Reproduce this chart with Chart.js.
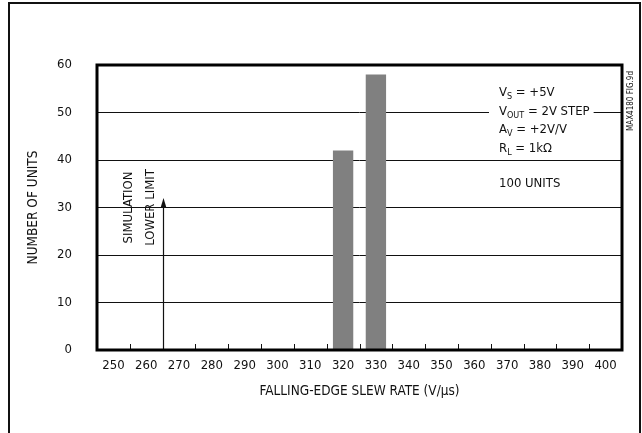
<!DOCTYPE html>
<html>
<head>
<meta charset="utf-8">
<script src="https://cdn.jsdelivr.net/npm/chart.js@4/dist/chart.umd.min.js"></script>
<style>
  html, body { margin: 0; padding: 0; background: #fff; }
  #wrap { position: relative; width: 642px; height: 433px; overflow: hidden; }
  #frame { position: absolute; left: 8px; top: 2px; width: 629px; height: 500px;
           border: 2px solid #111; border-bottom: none; }
  #chart { position: absolute; left: 0; top: 0; }
</style>
</head>
<body>
<div id="wrap">
  <div id="frame"></div>
  <canvas id="chart" width="642" height="433"></canvas>
</div>
<script>
// slew rate bins (V/us) and unit counts
var slewRates = ['250','260','270','280','290','300','310','320','330','340','350','360','370','380','390','400'];
var units     = [0, 0, 0, 0, 0, 0, 0, 42, 58, 0, 0, 0, 0, 0, 0, 0];
var yMin = 0, yMax = 60, yStep = 10;
var lowerLimitValue = 32;   // arrow tip height (units)

var FONT = "'Liberation Sans Narrow', 'DejaVu Sans Condensed', 'Arial Narrow', sans-serif";
var INK = '#111';

// condition lines: [main, subscript, rest]
var conditions = [
  ['V', 'S', ' = +5V'],
  ['V', 'OUT', ' = 2V STEP'],
  ['A', 'V', ' = +2V/V'],
  ['R', 'L', ' = 1k\u03A9']
];

var extras = {
  id: 'extras',
  afterDatasetsDraw: function(chart){
    var ctx = chart.ctx;
    var a = chart.chartArea;
    var xs = chart.scales.x, ys = chart.scales.y;
    ctx.save();

    // tick marks at bin boundaries, inside the plot
    ctx.strokeStyle = INK;
    ctx.lineWidth = 1;
    for (var i = 0; i < slewRates.length - 1; i++) {
      var bx = Math.round((xs.getPixelForValue(i) + xs.getPixelForValue(i + 1)) / 2) + 0.5;
      ctx.beginPath();
      ctx.moveTo(bx, a.bottom);
      ctx.lineTo(bx, a.bottom - 6);
      ctx.stroke();
    }

    // simulation lower limit arrow at 265 V/us
    var ax = Math.round((xs.getPixelForValue(1) + xs.getPixelForValue(2)) / 2) + 0.5;
    var tipY = ys.getPixelForValue(lowerLimitValue);
    ctx.lineWidth = 1.2;
    ctx.beginPath();
    ctx.moveTo(ax, a.bottom);
    ctx.lineTo(ax, tipY + 8);
    ctx.stroke();
    ctx.fillStyle = INK;
    ctx.beginPath();
    ctx.moveTo(ax, tipY);
    ctx.lineTo(ax - 3, tipY + 10);
    ctx.lineTo(ax + 3, tipY + 10);
    ctx.closePath();
    ctx.fill();

    ctx.font = '13px ' + FONT;
    ctx.textAlign = 'center';
    ctx.textBaseline = 'middle';
    var midY = ys.getPixelForValue(30);
    ctx.save();
    ctx.translate(ax - 35, midY);
    ctx.rotate(-Math.PI / 2);
    ctx.fillText('SIMULATION', 0, 0);
    ctx.restore();
    ctx.save();
    ctx.translate(ax - 13, midY);
    ctx.rotate(-Math.PI / 2);
    ctx.fillText('LOWER LIMIT', 0, 0);
    ctx.restore();

    // measure conditions text, then white box behind it
    var tx = 499, ty = 93, maxW = 0;
    var widths = [];
    for (var k = 0; k < conditions.length; k++) {
      var c = conditions[k];
      ctx.font = '13px ' + FONT;
      var w0 = ctx.measureText(c[0]).width, w2 = ctx.measureText(c[2]).width;
      ctx.font = '9px ' + FONT;
      var w1 = ctx.measureText(c[1]).width;
      widths.push([w0, w1]);
      maxW = Math.max(maxW, w0 + w1 + w2);
    }
    var boxRight = Math.max(587, tx + maxW + 4);
    ctx.fillStyle = '#fff';
    ctx.fillRect(489, ys.getPixelForValue(56), boxRight - 489, ys.getPixelForValue(42) - ys.getPixelForValue(56));

    ctx.fillStyle = INK;
    ctx.textAlign = 'left';
    ctx.textBaseline = 'middle';
    for (k = 0; k < conditions.length; k++) {
      c = conditions[k];
      var x = tx;
      ctx.font = '13px ' + FONT;
      ctx.fillText(c[0], x, ty);
      x += widths[k][0];
      ctx.font = '9px ' + FONT;
      ctx.fillText(c[1], x, ty + 4);
      x += widths[k][1];
      ctx.font = '13px ' + FONT;
      ctx.fillText(c[2], x, ty);
      ty += 18.5;
    }
    ctx.fillText('100 UNITS', tx, 184);

    // figure id
    ctx.font = '8px ' + FONT;
    ctx.textAlign = 'center';
    ctx.save();
    ctx.translate(631, 101);
    ctx.rotate(-Math.PI / 2);
    ctx.fillText('MAX4180 FIG.9d', 0, 0);
    ctx.restore();

    // heavy plot frame
    ctx.strokeStyle = '#000';
    ctx.lineWidth = 3;
    ctx.strokeRect(a.left, a.top, a.right - a.left, a.bottom - a.top);
    ctx.restore();
  }
};

Chart.defaults.font.family = FONT;
Chart.defaults.font.size = 13;
Chart.defaults.color = INK;

new Chart(document.getElementById('chart'), {
  type: 'bar',
  data: {
    labels: slewRates,
    datasets: [{
      data: units,
      backgroundColor: '#808080',
      borderWidth: 0,
      barPercentage: 0.62,
      categoryPercentage: 1.0
    }]
  },
  options: {
    responsive: false,
    animation: false,
    layout: { padding: { top: 65, right: 20, left: 0, bottom: 0 } },
    plugins: { legend: { display: false }, tooltip: { enabled: false } },
    scales: {
      x: {
        offset: true,
        grid: { display: false, drawTicks: false },
        border: { display: false },
        ticks: { padding: 8, maxRotation: 0, autoSkip: false },
        title: { display: true, text: 'FALLING-EDGE SLEW RATE (V/\u00B5s)', font: { size: 13.5 }, padding: { top: 0, bottom: 33 } },
        afterFit: function(s){ s.height = 83; }
      },
      y: {
        min: yMin, max: yMax,
        ticks: { stepSize: yStep, padding: 25 },
        grid: { color: INK, lineWidth: 1, drawTicks: false },
        border: { display: false },
        title: { display: true, text: 'NUMBER OF UNITS', font: { size: 13.5 }, padding: { top: 25, bottom: 0 } },
        afterFit: function(s){ s.width = 97; }
      }
    }
  },
  plugins: [extras]
});
</script>
</body>
</html>
